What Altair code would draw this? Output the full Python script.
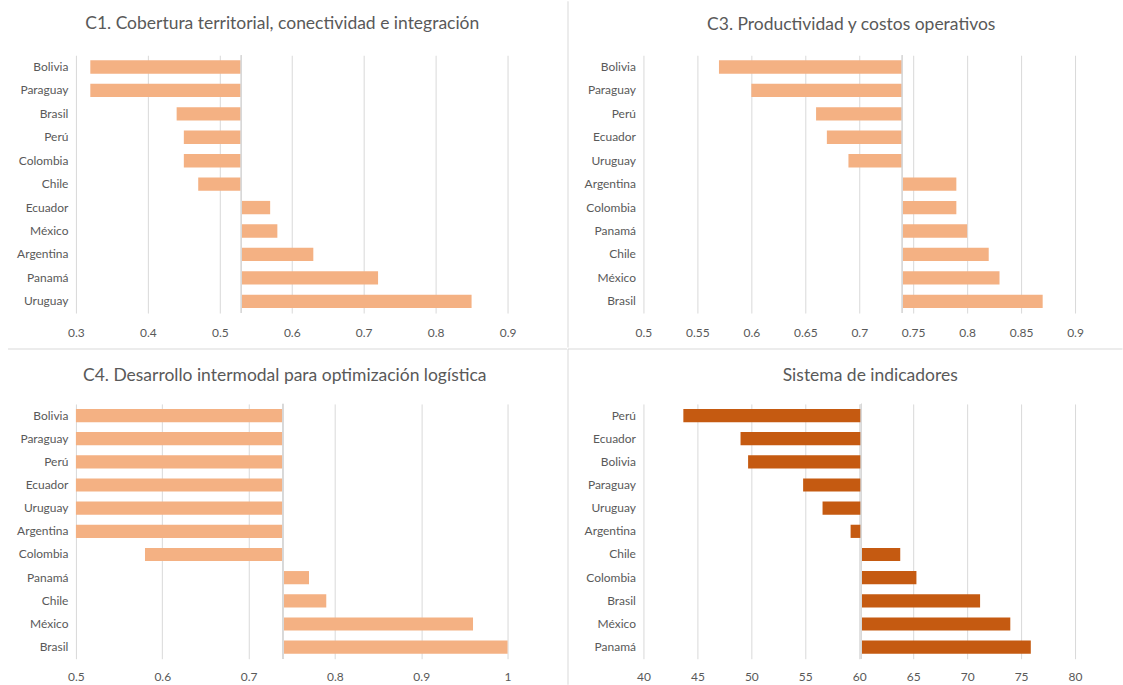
import altair as alt
import pandas as pd

# ---------------- data ----------------
c1_countries = ["Bolivia", "Paraguay", "Brasil", "Perú", "Colombia", "Chile",
                "Ecuador", "México", "Argentina", "Panamá", "Uruguay"]
c1_values = [0.32, 0.32, 0.44, 0.45, 0.45, 0.47, 0.57, 0.58, 0.63, 0.72, 0.85]
c1_base = 0.53
c1_ticks = [0.3, 0.4, 0.5, 0.6, 0.7, 0.8, 0.9]

c3_countries = ["Bolivia", "Paraguay", "Perú", "Ecuador", "Uruguay", "Argentina",
                "Colombia", "Panamá", "Chile", "México", "Brasil"]
c3_values = [0.57, 0.60, 0.66, 0.67, 0.69, 0.79, 0.79, 0.80, 0.82, 0.83, 0.87]
c3_base = 0.74
c3_ticks = [0.5, 0.55, 0.6, 0.65, 0.7, 0.75, 0.8, 0.85, 0.9]

c4_countries = ["Bolivia", "Paraguay", "Perú", "Ecuador", "Uruguay", "Argentina",
                "Colombia", "Panamá", "Chile", "México", "Brasil"]
c4_values = [0.5, 0.5, 0.5, 0.5, 0.5, 0.5, 0.58, 0.77, 0.79, 0.96, 1.0]
c4_base = 0.74
c4_ticks = [0.5, 0.6, 0.7, 0.8, 0.9, 1.0]

si_countries = ["Perú", "Ecuador", "Bolivia", "Paraguay", "Uruguay", "Argentina",
                "Chile", "Colombia", "Brasil", "México", "Panamá"]
si_values = [43.7, 49.0, 49.7, 54.8, 56.6, 59.2, 63.8, 65.3, 71.2, 74.0, 75.9]
si_base = 60.2
si_ticks = [40, 45, 50, 55, 60, 65, 70, 75, 80]

titles = ["C1. Cobertura territorial, conectividad e integración",
          "C3. Productividad y costos operativos",
          "C4. Desarrollo intermodal para optimización logística",
          "Sistema de indicadores"]

LIGHT = "#F4B183"
DARK = "#C55A11"
GRID = "#d9d9d9"
TXT = "#595959"
FONT = "Lato"

W = 432
H1 = 258
H2 = 255


def panel(title, countries, values, base, ticks, color, height, dx, offset, lpad, extra=()):
    df = pd.DataFrame({"pais": countries, "valor": values, "base": [base] * len(values)})
    x = alt.X("valor:Q",
              scale=alt.Scale(domain=[ticks[0], ticks[-1]], nice=False, zero=False),
              axis=alt.Axis(values=ticks, format="~g", grid=True, gridColor=GRID,
                            gridWidth=1, domain=False, ticks=False, labelPadding=lpad,
                            labelFontSize=12, labelColor=TXT, labelFont=FONT,
                            labelFlush=False, title=None))
    y = alt.Y("pais:N", sort=countries,
              scale=alt.Scale(paddingInner=0.43, paddingOuter=0.215),
              axis=alt.Axis(domain=False, ticks=False, grid=False, labelPadding=8,
                            labelFontSize=12, labelColor=TXT, labelFont=FONT,
                            title=None))
    bars = alt.Chart(df).mark_bar(color=color).encode(x=x, x2="base:Q", y=y)
    rule = alt.Chart(df).mark_rule(color=GRID, strokeWidth=1).encode(x=alt.datum(base))
    return alt.layer(bars, rule, *extra).properties(
        width=W, height=height,
        title=alt.Title(title, fontSize=17.5, font=FONT, fontWeight="normal", color=TXT,
                        anchor="middle", frame="group", dx=dx, offset=offset,
                        baseline="alphabetic"))


dummy = pd.DataFrame({"a": [0]})
# panel dividers (pixel offsets relative to each panel's plot origin)
vdiv_top = alt.Chart(dummy).mark_rule(color=GRID, strokeWidth=1).encode(
    x=alt.value(-75.5), y=alt.value(-54), y2=alt.value(292.5))
hdiv_left = alt.Chart(dummy).mark_rule(color=GRID, strokeWidth=1).encode(
    x=alt.value(-68), x2=alt.value(491.5), y=alt.value(-55))
hdiv_right = alt.Chart(dummy).mark_rule(color=GRID, strokeWidth=1).encode(
    x=alt.value(-75.5), x2=alt.value(479.5), y=alt.value(-55))
vdiv_bot = alt.Chart(dummy).mark_rule(color=GRID, strokeWidth=1).encode(
    x=alt.value(-75.5), y=alt.value(-55), y2=alt.value(281))

p1 = panel(titles[0], c1_countries, c1_values, c1_base, c1_ticks, LIGHT, H1, -9.5, 8, 14)
p2 = panel(titles[1], c3_countries, c3_values, c3_base, c3_ticks, LIGHT, H1, -8, -46.5, 14,
           (vdiv_top,))
p3 = panel(titles[2], c4_countries, c4_values, c4_base, c4_ticks, LIGHT, H2, -7, -50.5, 13,
           (hdiv_left,))
p4 = panel(titles[3], si_countries, si_values, si_base, si_ticks, DARK, H2, 11, -50.5, 13,
           (hdiv_right, vdiv_bot))

chart = alt.ConcatChart(concat=[p1, p2, p3, p4], columns=2, spacing=0,
                        align="none", bounds="full").properties(
    padding={"left": 7, "top": 0, "right": 0, "bottom": 0}
).resolve_scale(x="independent", y="independent").configure(
    font=FONT, background="white").configure_view(stroke=None)

chart.save("out.html", embed_options={"renderer": "svg", "actions": False})
